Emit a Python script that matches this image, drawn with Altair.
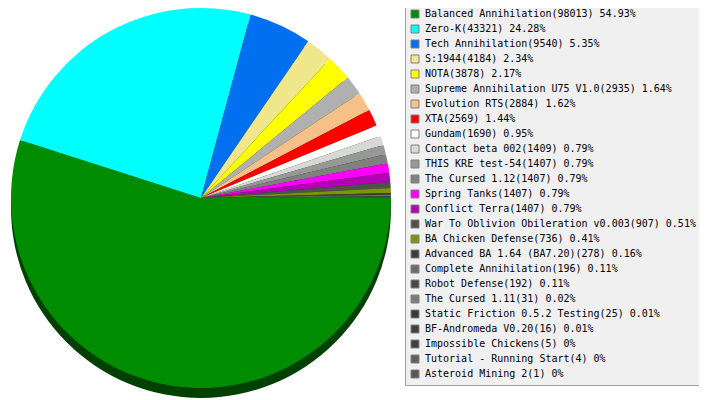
import math
import altair as alt
import pandas as pd

names = [
    "Balanced Annihilation", "Zero-K", "Tech Annihilation", "S:1944", "NOTA",
    "Supreme Annihilation U75 V1.0", "Evolution RTS", "XTA", "Gundam",
    "Contact beta 002", "THIS KRE test-54", "The Cursed 1.12", "Spring Tanks",
    "Conflict Terra", "War To Oblivion Obileration v0.003", "BA Chicken Defense",
    "Advanced BA 1.64 (BA7.20)", "Complete Annihilation", "Robot Defense",
    "The Cursed 1.11", "Static Friction 0.5.2 Testing", "BF-Andromeda V0.20",
    "Impossible Chickens", "Tutorial - Running Start", "Asteroid Mining 2",
]
counts = [98013, 43321, 9540, 4184, 3878, 2935, 2884, 2569, 1690, 1409, 1407,
          1407, 1407, 1407, 907, 736, 278, 196, 192, 31, 25, 16, 5, 4, 1]
pcts = ["54.93%", "24.28%", "5.35%", "2.34%", "2.17%", "1.64%", "1.62%",
        "1.44%", "0.95%", "0.79%", "0.79%", "0.79%", "0.79%", "0.79%",
        "0.51%", "0.41%", "0.16%", "0.11%", "0.11%", "0.02%", "0.01%",
        "0.01%", "0%", "0%", "0%"]
colors = ["#008C00", "#00FFFF", "#0070F0", "#F0E68C", "#FFFF00", "#B0B0B0",
          "#F7C088", "#FF0000", "#FFFFFF", "#D8D8D8", "#989898", "#808080",
          "#FF00FF", "#B400B4", "#505050", "#7C9600", "#3C3C3C", "#6C6C6C",
          "#484848", "#7C7C7C", "#383838", "#404040", "#404040", "#606060",
          "#585858"]

labels = [f"{n}({c}) {p}" for n, c, p in zip(names, counts, pcts)]
df = pd.DataFrame({"label": labels, "count": counts, "idx": list(range(len(labels)))})

CX, CY, R, DEPTH = 193, 190, 190, 10

box = alt.Chart(pd.DataFrame({"a": [0]})).mark_rect(
    fill="#F0F0F0", stroke="#A0A0A0", strokeWidth=1
).encode(x=alt.value(397.5), x2=alt.value(740), y=alt.value(-2), y2=alt.value(377.5))

shadow = alt.Chart(pd.DataFrame({"a": [0]})).mark_arc(
    radius=R, color="#004000"
).encode(x=alt.value(CX), y=alt.value(CY + DEPTH))

pie = alt.Chart(df).mark_arc(radius=R).encode(
    theta=alt.Theta("count:Q", stack=True,
                    scale=alt.Scale(range=[math.pi / 2, math.pi / 2 + 2 * math.pi])),
    color=alt.Color(
        "label:N",
        scale=alt.Scale(domain=labels, range=colors),
        legend=alt.Legend(
            orient="none", legendX=402, legendY=1, title=None, direction="vertical",
            columns=1, symbolType="square", symbolSize=64,
            symbolStrokeColor="#808080", symbolStrokeWidth=1, symbolOpacity=1,
            labelFont="DejaVu Sans Mono", labelFontSize=10, labelColor="#000000",
            labelLimit=400, rowPadding=3, labelOffset=5, padding=0,
        ),
    ),
    order=alt.Order("idx:Q"),
    x=alt.value(CX),
    y=alt.value(CY),
)

chart = alt.layer(box, shadow, pie).properties(
    width=691, height=390, padding=0, autosize="none"
).configure_view(strokeWidth=0)

chart.save("out.html", embed_options={"renderer": "svg", "actions": False})
